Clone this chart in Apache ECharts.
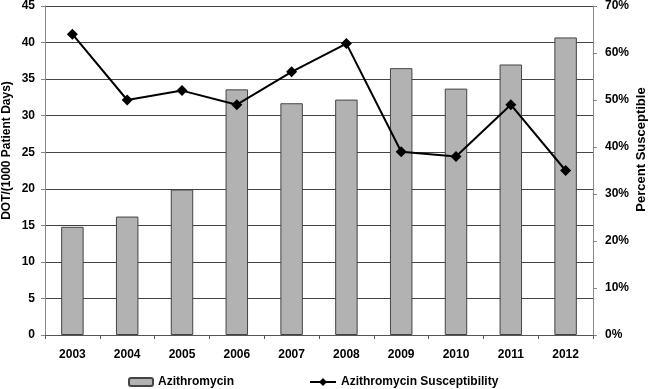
<!DOCTYPE html>
<html><head><meta charset="utf-8">
<script src="https://cdn.jsdelivr.net/npm/echarts@6/dist/echarts.min.js"></script>
<style>html,body{margin:0;padding:0;background:#fff}#c{width:650px;height:389px}</style>
</head><body><div id="c"></div>
<script>
var years = ['2003','2004','2005','2006','2007','2008','2009','2010','2011','2012'];
var dotValues = [14.8, 16.2, 19.9, 33.6, 31.7, 32.2, 36.5, 33.7, 37.0, 40.7];
var susceptibility = [64, 50, 52, 49, 56, 62, 39, 38, 49, 35];
var barName = 'Azithromycin';
var lineName = 'Azithromycin Susceptibility';
var leftAxisName = 'DOT/(1000 Patient Days)';
var rightAxisName = 'Percent Susceptible';

var font = 'Arial, "Liberation Sans", sans-serif';
var txt = {color:'#000', fontFamily:font, fontWeight:'bold', fontSize:12};
var chart = echarts.init(document.getElementById('c'), null, {renderer:'canvas'});
chart.setOption({
  animation:false,
  backgroundColor:'#fff',
  grid:{left:45, right:57, top:6, bottom:54, containLabel:false, outerBoundsMode:'none'},
  legend:[
    {data:[barName], left:128, top:376, itemWidth:24, itemHeight:8, itemGap:5, textStyle:Object.assign({}, txt, {fontSize:12}), padding:0},
    {data:[lineName], left:309, top:376, itemWidth:26, itemHeight:10, itemGap:3, textStyle:Object.assign({}, txt, {fontSize:12}), padding:0}
  ],
  xAxis:{
    type:'category', data:years, boundaryGap:true,
    axisLine:{lineStyle:{color:'#555', width:1}},
    axisTick:{show:true, inside:false, length:4, lineStyle:{color:'#555'}},
    axisLabel:Object.assign({}, txt, {margin:14})
  },
  yAxis:[
    {type:'value', min:0, max:45, interval:5, position:'left',
     name:leftAxisName, nameLocation:'middle', nameGap:32, nameRotate:90, nameMoveOverlap:false,
     nameTextStyle:Object.assign({}, txt, {fontSize:12, padding:[0,0,0,40]}),
     axisLine:{show:true, lineStyle:{color:'#888'}},
     axisTick:{show:true, length:4, lineStyle:{color:'#888'}},
     axisLabel:Object.assign({}, txt, {margin:10}),
     splitLine:{show:true, lineStyle:{color:'#444', width:1}}},
    {type:'value', min:0, max:70, interval:10, position:'right',
     name:rightAxisName, nameLocation:'middle', nameGap:42, nameRotate:90, nameMoveOverlap:false,
     nameTextStyle:Object.assign({}, txt, {fontSize:13, padding:[0,0,0,42]}),
     axisLine:{show:true, lineStyle:{color:'#888'}},
     axisTick:{show:true, length:4, lineStyle:{color:'#888'}},
     axisLabel:Object.assign({}, txt, {margin:12, formatter:'{value}%'}),
     splitLine:{show:false}}
  ],
  series:[
    {name:barName, type:'bar', data:dotValues, yAxisIndex:0, barWidth:'41%',
     itemStyle:{color:'#b2b2b2', borderColor:'#444', borderWidth:1}},
    {name:lineName, type:'line', data:susceptibility, yAxisIndex:1,
     symbol:'diamond', symbolSize:11, z:5,
     lineStyle:{color:'#000', width:2}, itemStyle:{color:'#000'}}
  ]
});
</script></body></html>
